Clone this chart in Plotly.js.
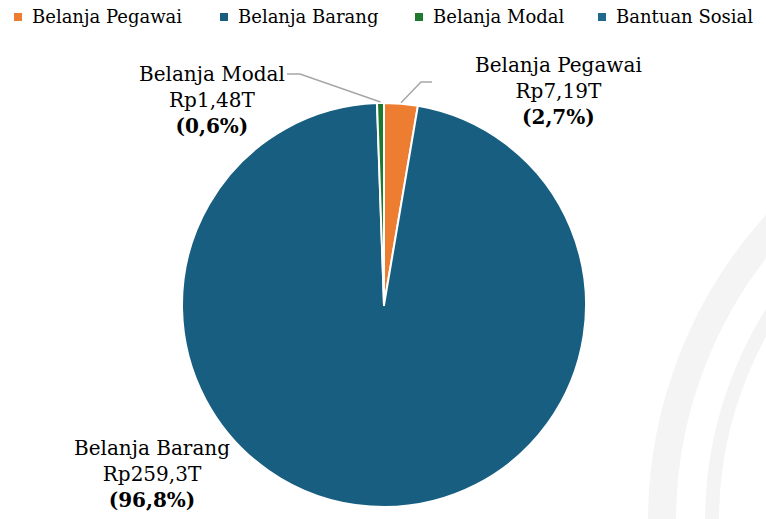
<!DOCTYPE html>
<html>
<head>
<meta charset="utf-8">
<script src="https://cdn.plot.ly/plotly-3.0.1.min.js"></script>
<style>html,body{margin:0;padding:0;background:#fff;}#chart{width:766px;height:519px;}</style>
</head>
<body>
<div id="chart"></div>
<script>
var categories = ["Belanja Pegawai", "Belanja Barang", "Belanja Modal", "Bantuan Sosial"];
var values = [7.19, 259.3, 1.48, 0];
var valueLabels = ["Rp7,19T", "Rp259,3T", "Rp1,48T", ""];
var percentLabels = ["(2,7%)", "(96,8%)", "(0,6%)", ""];
var colors = ["#ED7D31", "#175E81", "#1E7A2E", "#1F6A8C"];

var W = 766, H = 519;
function px(x){ return x / W; }
function py(y){ return 1 - y / H; }

var cx = 384, cy = 305, R = 202;
var FONT = "DejaVu Serif";

var shapes = [];
var annotations = [];

// watermark arcs
shapes.push({type:"circle", xref:"paper", yref:"paper", layer:"below",
  x0:px(1104-442), x1:px(1104+442), y0:py(521+442), y1:py(521-442),
  line:{color:"#f4f4f4", width:28}});
shapes.push({type:"circle", xref:"paper", yref:"paper", layer:"below",
  x0:px(1104-392), x1:px(1104+392), y0:py(521+392), y1:py(521-392),
  line:{color:"#f4f4f4", width:14}});

// legend (manual)
var legendX = [14, 220, 415, 598];
for (var i = 0; i < categories.length; i++) {
  shapes.push({type:"rect", xref:"paper", yref:"paper",
    x0:px(legendX[i]), x1:px(legendX[i]+8), y0:py(21), y1:py(13),
    fillcolor:colors[i], line:{width:0}});
  annotations.push({xref:"paper", yref:"paper", x:px(legendX[i]+16), y:py(17),
    xanchor:"left", yanchor:"middle", showarrow:false, text:categories[i],
    font:{family:FONT, size:18, color:"#000"}});
}

// slice angles
var total = values.reduce(function(a,b){return a+b;}, 0);
var cum = 0, mids = [];
for (var i = 0; i < values.length; i++) {
  var a0 = cum / total * 360; cum += values[i];
  var a1 = cum / total * 360;
  mids.push((a0 + a1) / 2);
}
function edge(deg, r){
  var t = deg * Math.PI / 180;
  return [cx + r * Math.sin(t), cy - r * Math.cos(t)];
}

// data labels
var labelPos = [[558, 91], [152, 474], [212, 100]];
for (var i = 0; i < 3; i++) {
  annotations.push({xref:"paper", yref:"paper", x:px(labelPos[i][0]), y:py(labelPos[i][1]),
    xanchor:"center", yanchor:"middle", showarrow:false, align:"center",
    text:categories[i] + "<br>" + valueLabels[i] + "<br><b>" + percentLabels[i] + "</b>",
    font:{family:FONT, size:20, color:"#000"}});
}

// leader lines
var pPeg = edge(mids[0], R);
shapes.push({type:"path", xref:"paper", yref:"paper",
  path:"M" + px(432) + "," + py(82) + " L" + px(421) + "," + py(82) + " L" + px(pPeg[0]) + "," + py(pPeg[1]-1),
  line:{color:"#A6A6A6", width:1.5}});
var pMod = edge(mids[2], R);
shapes.push({type:"path", xref:"paper", yref:"paper",
  path:"M" + px(287) + "," + py(74) + " L" + px(300) + "," + py(74) + " L" + px(pMod[0]) + "," + py(pMod[1]-1),
  line:{color:"#A6A6A6", width:1.5}});

var data = [{
  type:"pie", labels:categories, values:values, sort:false, direction:"clockwise", rotation:0,
  marker:{colors:colors, line:{color:"#fff", width:2}},
  textinfo:"none", hoverinfo:"label+value+percent", showlegend:false,
  domain:{x:[px(cx-R), px(cx+R)], y:[py(cy+R), py(cy-R)]}
}];

var layout = {
  width:W, height:H, margin:{l:0, r:0, t:0, b:0},
  paper_bgcolor:"#fff", showlegend:false,
  shapes:shapes, annotations:annotations,
  font:{family:FONT}
};
Plotly.newPlot("chart", data, layout, {displayModeBar:false, staticPlot:true});
</script>
</body>
</html>
